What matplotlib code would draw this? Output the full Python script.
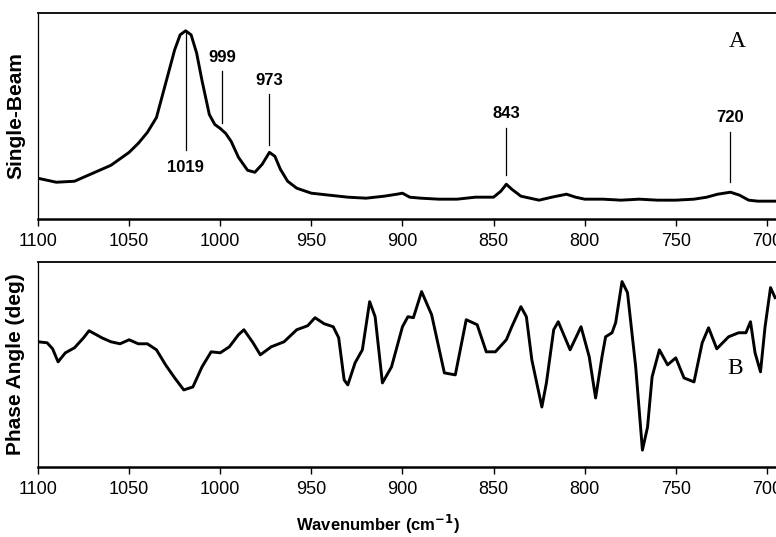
import matplotlib.pyplot as plt

plt.rcParams['font.family'] = ['Liberation Sans', 'DejaVu Sans']

# spectrum A (single-beam), arbitrary units
top_wn = [1100, 1095, 1090, 1080, 1070, 1060, 1050, 1045, 1040, 1035, 1030, 1025, 1022,
          1019, 1016, 1013, 1010, 1006, 1003, 1000, 997, 994, 990, 985, 981, 977, 973,
          970, 967, 963, 958, 950, 940, 930, 920, 910, 903, 900, 896, 890, 880, 870, 860,
          855, 850, 846, 843, 840, 835, 830, 825, 818, 810, 805, 800, 790, 780, 770, 760,
          750, 740, 733, 727, 720, 715, 710, 705, 700, 695]
top_val = [41, 39, 37, 38, 46, 54, 67, 76, 87, 102, 136, 170, 185, 189, 185, 167, 139, 105,
           95, 91, 86, 78, 62, 49, 47, 55, 67, 63, 50, 38, 31, 26, 24, 22, 21, 23, 25, 26,
           22, 21, 20, 20, 22, 22, 22, 28, 35, 30, 23, 21, 19, 22, 25, 22, 20, 20, 19, 20,
           19, 19, 20, 22, 25, 27, 24, 19, 18, 18, 18]

# spectrum B (phase angle), arbitrary units
bot_wn = [1100, 1095, 1092, 1089, 1085, 1080, 1075, 1072, 1065, 1060, 1055, 1050, 1045,
          1040, 1035, 1030, 1025, 1020, 1015, 1010, 1005, 1000, 995, 990, 987, 982, 978,
          972, 965, 958, 952, 948, 943, 938, 935, 932, 930, 926, 922, 918, 915, 911, 906,
          900, 897, 894, 889.5, 884, 877, 871, 865, 859, 854, 849, 843, 840, 835, 832,
          829, 823.5, 821, 817, 814.5, 808, 802, 797.5, 794, 790.5, 788.5, 785, 783, 779.5,
          776.5, 772, 768.3, 765.5, 763, 759, 754.5, 750, 745.5, 740, 735.5, 732, 727.5,
          721, 715.5, 711.5, 709, 706.5, 703.5, 701, 698, 695.5]
bot_val = [125, 124, 118, 105, 114, 119, 129, 136, 129, 125, 123, 127, 123, 123, 117, 102,
           89, 77, 80, 100, 115, 114, 120, 132, 137, 124, 112, 120, 125, 137, 141, 149, 143,
           140, 129, 87, 82, 104, 117, 165, 150, 84, 100, 140, 150, 149, 175, 152, 94, 92,
           147, 142, 115, 115, 127, 140, 160, 150, 107, 60, 84, 137, 145, 117, 140, 110, 69,
           110, 130, 134, 144, 185, 174, 100, 17, 40, 90, 117, 102, 109, 89, 85, 124, 139,
           118, 130, 134, 134, 145, 114, 95, 140, 179, 169]

peak_labels = ['1019', '999', '973', '843', '720']
peak_pos = [1019, 999, 973, 843, 720]
label_y = [52, 162, 139, 106, 102]
line_lo = [69, 96, 74, 44, 37]
line_hi = [189, 149, 126, 91, 87]

fig = plt.figure(figsize=(7.76, 5.37), dpi=100)
ax1 = fig.add_axes([0.049, 0.592, 0.951, 0.384])
ax2 = fig.add_axes([0.049, 0.130, 0.951, 0.383])

ax1.plot(top_wn, top_val, color='black', lw=2.1)
ax2.plot(bot_wn, bot_val, color='black', lw=2.1)

for i in range(len(peak_labels)):
    ax1.plot([peak_pos[i], peak_pos[i]], [line_lo[i], line_hi[i]], color='black', lw=0.9)
    ax1.text(peak_pos[i], label_y[i], peak_labels[i], ha='center', va='center',
             fontsize=12, fontweight='bold')

ax1.set_ylim(0, 207)
ax2.set_ylim(0, 205)

for ax in (ax1, ax2):
    ax.set_xlim(1100, 695)
    ax.set_xticks([1100, 1050, 1000, 950, 900, 850, 800, 750, 700])
    ax.set_yticks([])
    ax.spines['right'].set_visible(False)
    ax.spines['left'].set_linewidth(0.9)
    ax.spines['top'].set_linewidth(1.3)
    ax.spines['bottom'].set_linewidth(1.8)
    ax.tick_params(axis='x', direction='out', length=5, width=1, labelsize=13, pad=5)

ax1.set_ylabel('Single-Beam', fontsize=15, fontweight='bold')
ax2.set_ylabel('Phase Angle (deg)', fontsize=15, fontweight='bold')
ax1.yaxis.set_label_coords(-0.017, 0.5)
ax2.yaxis.set_label_coords(-0.017, 0.5)
ax2.set_xlabel('Wavenumber (cm$^{\\mathbf{-1}}$)', fontsize=12, fontweight='bold')
ax2.xaxis.set_label_coords(0.46, -0.22)

ax1.text(0.948, 0.86, 'A', transform=ax1.transAxes, fontsize=17,
         family=['Liberation Serif', 'DejaVu Serif'], ha='center', va='center')
ax2.text(0.945, 0.48, 'B', transform=ax2.transAxes, fontsize=17,
         family=['Liberation Serif', 'DejaVu Serif'], ha='center', va='center')

fig.savefig('out.png', dpi=100)
